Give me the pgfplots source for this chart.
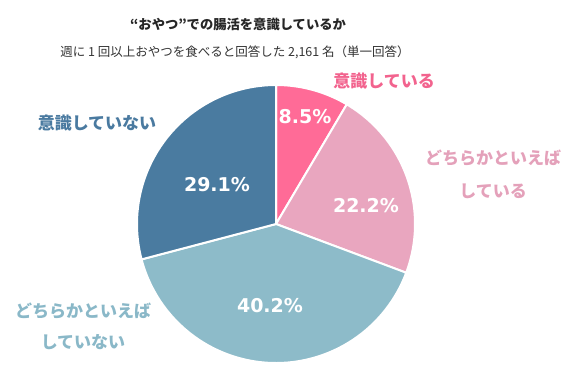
\documentclass[border=0pt]{standalone}
\usepackage{pgfplots}
\pgfplotsset{compat=1.18}
\usepackage{pgfplotstable}
\usepackage{fontspec}
\setmainfont{Noto Sans CJK JP}
\newfontfamily\pctfont{DejaVu Sans}
\definecolor{cA}{HTML}{FF6B97}
\definecolor{cB}{HTML}{E9A6BF}
\definecolor{cC}{HTML}{8DBBC9}
\definecolor{cD}{HTML}{4A7BA0}
\definecolor{tA}{HTML}{F2638E}
\definecolor{tB}{HTML}{E4A1BA}
\definecolor{tC}{HTML}{8AB8C8}
\definecolor{tD}{HTML}{4A7AA0}
\pgfplotstableread{
label pct
A 8.5
B 22.2
C 40.2
D 29.1
}\piedata
\pgfplotstablegetelem{0}{pct}\of\piedata \let\pA\pgfplotsretval
\pgfplotstablegetelem{1}{pct}\of\piedata \let\pB\pgfplotsretval
\pgfplotstablegetelem{2}{pct}\of\piedata \let\pC\pgfplotsretval
\pgfplotstablegetelem{3}{pct}\of\piedata \let\pD\pgfplotsretval
\pgfmathsetmacro\aA{90}
\pgfmathsetmacro\aB{\aA-3.6*\pA}
\pgfmathsetmacro\aC{\aB-3.6*\pB}
\pgfmathsetmacro\aD{\aC-3.6*\pC}
\pgfmathsetmacro\aE{\aD-3.6*\pD}
\def\cx{276}\def\cy{224}\def\rr{139}
\begin{document}
\begin{tikzpicture}
\begin{axis}[
  width=586pt, height=381pt, scale only axis,
  xmin=0, xmax=586, ymin=0, ymax=381, y dir=reverse,
  hide axis, clip=false,
]
\addplot[fill=cA, draw=white, line width=2pt, domain=\aB:\aA, samples=60, variable=\t]
  ({\cx+\rr*cos(\t)},{\cy-\rr*sin(\t)}) -- (\cx,\cy) -- cycle;
\addplot[fill=cB, draw=white, line width=2pt, domain=\aC:\aB, samples=80, variable=\t]
  ({\cx+\rr*cos(\t)},{\cy-\rr*sin(\t)}) -- (\cx,\cy) -- cycle;
\addplot[fill=cC, draw=white, line width=2pt, domain=\aD:\aC, samples=120, variable=\t]
  ({\cx+\rr*cos(\t)},{\cy-\rr*sin(\t)}) -- (\cx,\cy) -- cycle;
\addplot[fill=cD, draw=white, line width=2pt, domain=\aE:\aD, samples=100, variable=\t]
  ({\cx+\rr*cos(\t)},{\cy-\rr*sin(\t)}) -- (\cx,\cy) -- cycle;
% percentage labels
\node[text=white, font=\pctfont\bfseries\fontsize{19}{22}\selectfont] at (axis cs:305,117) {\pA\%};
\node[text=white, font=\pctfont\bfseries\fontsize{19}{22}\selectfont] at (axis cs:366,206) {\pB\%};
\node[text=white, font=\pctfont\bfseries\fontsize{19}{22}\selectfont] at (axis cs:270,306) {\pC\%};
\node[text=white, font=\pctfont\bfseries\fontsize{19}{22}\selectfont] at (axis cs:217,185) {\pD\%};
% category labels
\node[text=tA, font=\bfseries\fontsize{17}{20}\selectfont] at (axis cs:384,81) {意識している};
\node[text=tB, font=\bfseries\fontsize{17}{20}\selectfont] at (axis cs:493,158) {どちらかといえば};
\node[text=tB, font=\bfseries\fontsize{17}{20}\selectfont] at (axis cs:493,191) {している};
\node[text=tD, font=\bfseries\fontsize{17}{20}\selectfont] at (axis cs:97,123) {意識していない};
\node[text=tC, font=\bfseries\fontsize{17}{20}\selectfont] at (axis cs:83,311) {どちらかといえば};
\node[text=tC, font=\bfseries\fontsize{17}{20}\selectfont] at (axis cs:83,342) {していない};
% titles
\node[text=black!85, font=\bfseries\fontsize{13.3}{16}\selectfont] at (axis cs:238,24) {“おやつ”での腸活を意識しているか};
\node[text=black!80, font=\fontsize{12.5}{15}\selectfont] at (axis cs:235,52) {週に 1 回以上おやつを食べると回答した 2,161 名（単一回答）};
\end{axis}
\path (current axis.south west) rectangle (current axis.north east);
\end{tikzpicture}
\end{document}
